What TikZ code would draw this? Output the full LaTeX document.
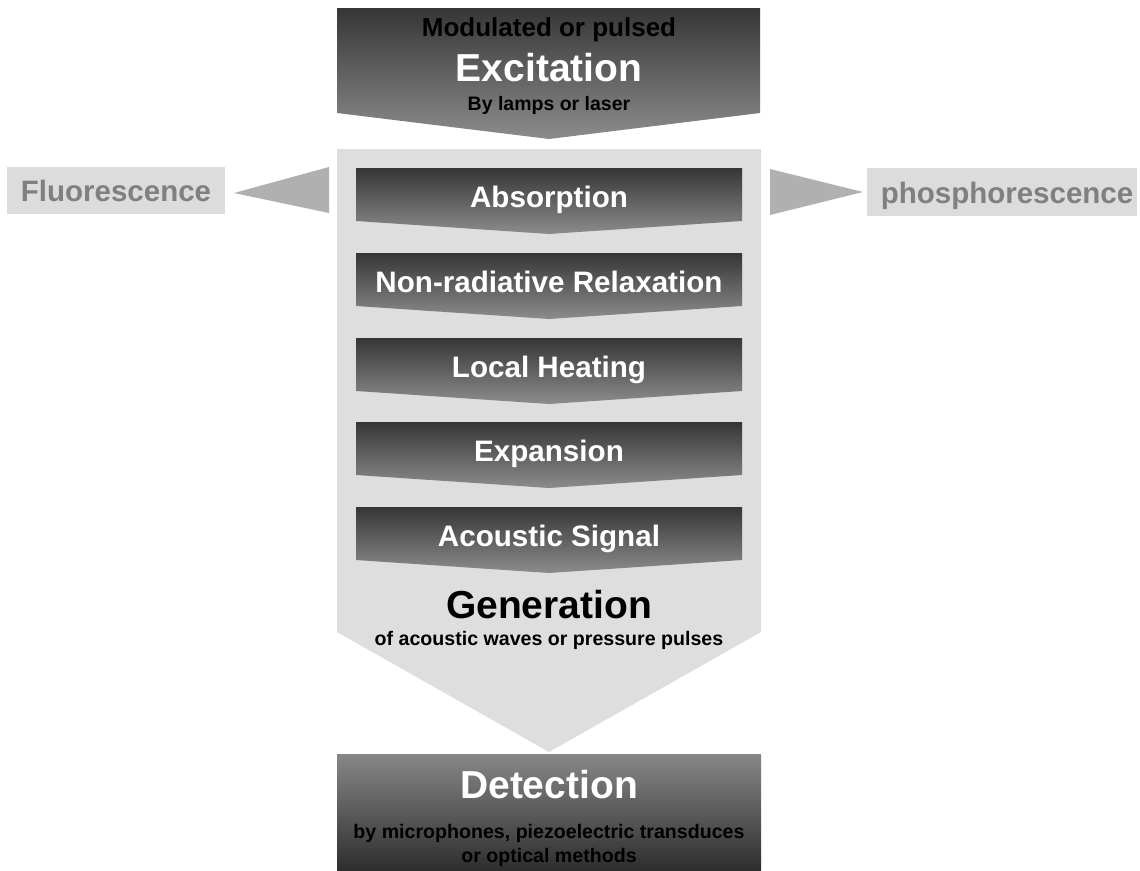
\documentclass[tikz,border=0pt]{standalone}
\usepackage{fontspec}
\setmainfont{Liberation Sans}
\definecolor{chevbg}{HTML}{DEDEDE}
\definecolor{sidebox}{HTML}{DCDCDC}
\definecolor{sidetext}{HTML}{808080}
\definecolor{tri}{HTML}{B0B0B0}
\definecolor{darktop}{HTML}{363636}
\definecolor{darkbot}{HTML}{8C8C8C}
\definecolor{dettop}{HTML}{878787}
\definecolor{detmid}{HTML}{6A6A6A}
\definecolor{detbot}{HTML}{2E2E2E}
\tikzset{
  txt/.style={anchor=base, inner sep=0pt, font=\bfseries},
  stepshade/.style={top color=darktop, bottom color=darkbot},
  steplabel/.style={txt, text=white, font=\bfseries\fontsize{29.6}{32}\selectfont},
  sidelabel/.style={txt, text=sidetext, font=\bfseries\fontsize{29.5}{32}\selectfont},
}
\begin{document}
\begin{tikzpicture}[x=1pt,y=-1pt]
\useasboundingbox (0,0) rectangle (1140,870);
\fill[white] (0,0) rectangle (1140,870);
% big light chevron
\fill[chevbg] (337,149) -- (761,149) -- (761,632) -- (549,752) -- (337,632) -- cycle;
% excitation chevron
\shade[stepshade] (337,8) -- (760,8) -- (760,113) -- (549,139) -- (337,113) -- cycle;
\node[txt, text=black, font=\bfseries\fontsize{26}{28}\selectfont] (mod) at (549,36) {Modulated or pulsed};
\node[txt, text=white, font=\bfseries\fontsize{39}{42}\selectfont] (exc) at (549,81) {Excitation};
\node[txt, text=black, font=\bfseries\fontsize{19.5}{22}\selectfont] (lamps) at (549,110) {By lamps or laser};
% steps
\foreach \t/\lab/\nm in {168/Absorption/abs, 253/Non-radiative Relaxation/nrr, 338/Local Heating/lh, 422/Expansion/exp, 507/Acoustic Signal/as}{
  \shade[stepshade] (356,\t) -- (742,\t) -- (742,\t+53) -- (549,\t+66) -- (356,\t+53) -- cycle;
  \node[steplabel] (\nm) at (549,\t+39) {\lab};
}
% generation
\node[txt, text=black, font=\bfseries\fontsize{39}{42}\selectfont] (gen) at (549,618) {Generation};
\node[txt, text=black, font=\bfseries\fontsize{19.6}{22}\selectfont] (genb) at (549,645) {of acoustic waves or pressure pulses};
% detection
\shade[top color=dettop, middle color=detmid, bottom color=detbot] (337,754) rectangle (761,870);
\node[txt, text=white, font=\bfseries\fontsize{39}{42}\selectfont] (det) at (549,798) {Detection};
\node[txt, text=black, font=\bfseries\fontsize{19.6}{22}\selectfont] (det1) at (549,838) {by microphones, piezoelectric transduces};
\node[txt, text=black, font=\bfseries\fontsize{19.6}{22}\selectfont] (det2) at (549,862) {or optical methods};
% side outputs
\fill[sidebox] (7,167) rectangle (225,214);
\node[sidelabel] (flu) at (116,201) {Fluorescence};
\fill[tri] (329,167) -- (329,213) -- (234,193) -- cycle;
\fill[sidebox] (867,168) rectangle (1137,216);
\node[sidelabel] (pho) at (1007,203) {phosphorescence};
\fill[tri] (770,169) -- (770,215) -- (863,192) -- cycle;
\end{tikzpicture}
\end{document}
